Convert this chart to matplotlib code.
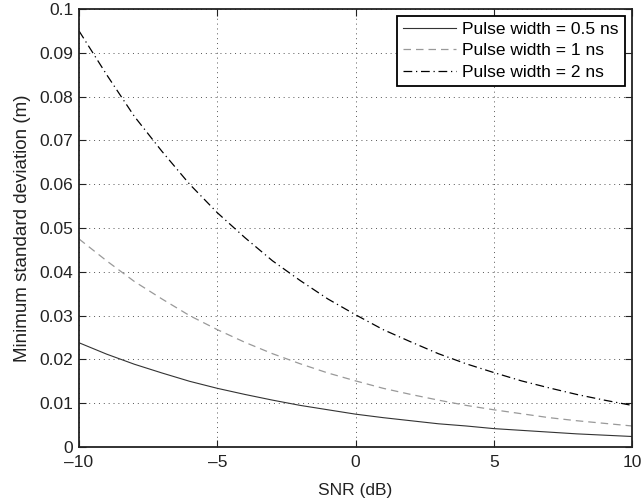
import matplotlib
matplotlib.use("Agg")
import matplotlib.pyplot as plt

plt.rcParams['font.family'] = ['Liberation Sans', 'DejaVu Sans']

snr = [-10, -9, -8, -7, -6, -5, -4, -3, -2, -1, 0, 1, 2, 3, 4, 5, 6, 7, 8, 9, 10]

std_05ns = [0.0238, 0.0212, 0.0189, 0.0169, 0.0150, 0.0134, 0.0120, 0.0107, 0.0095, 0.0085,
            0.0075, 0.0067, 0.0060, 0.0053, 0.0048, 0.0042, 0.0038, 0.0034, 0.0030, 0.0027, 0.0024]
std_1ns = [0.0475, 0.0425, 0.0378, 0.0338, 0.0300, 0.0268, 0.0239, 0.0213, 0.0190, 0.0169,
           0.0151, 0.0134, 0.0120, 0.0107, 0.0095, 0.0085, 0.0076, 0.0067, 0.0060, 0.0054, 0.0048]
std_2ns = [0.0950, 0.0850, 0.0755, 0.0675, 0.0600, 0.0535, 0.0478, 0.0425, 0.0380, 0.0338,
           0.0302, 0.0268, 0.0240, 0.0213, 0.0190, 0.0170, 0.0151, 0.0135, 0.0120, 0.0107, 0.0095]

labels = ['Pulse width = 0.5 ns', 'Pulse width = 1 ns', 'Pulse width = 2 ns']
xticks = [-10, -5, 0, 5, 10]
yticks = [0, 0.01, 0.02, 0.03, 0.04, 0.05, 0.06, 0.07, 0.08, 0.09, 0.1]
yticklabels = ['0', '0.01', '0.02', '0.03', '0.04', '0.05', '0.06', '0.07', '0.08', '0.09', '0.1']

fig = plt.figure(figsize=(6.44, 5.0), dpi=100)
ax = fig.add_axes([79 / 644, 53 / 500, 553 / 644, 438 / 500])

ax.plot(snr, std_05ns, '-', color='#333333', lw=0.8, label=labels[0])
ax.plot(snr, std_1ns, '--', color='#999999', lw=0.9, dashes=(6, 4), label=labels[1])
ax.plot(snr, std_2ns, '-.', color='black', lw=0.9, dashes=(7, 3, 1, 3), label=labels[2])

ax.set_xlim(-10, 10)
ax.set_ylim(0, 0.1)
ax.set_xticks(xticks)
ax.set_xticklabels(['\u2013' + str(-v) if v < 0 else str(v) for v in xticks])
ax.set_yticks(yticks)
ax.set_yticklabels(yticklabels)
ax.tick_params(direction='in', top=True, right=True, length=5, width=0.8,
               labelsize=12.5, colors='#222222', pad=4)
ax.tick_params(axis='x', pad=6)
ax.grid(True, linestyle=(0, (1, 4)), color='#555555', lw=0.7)

for s in ax.spines.values():
    s.set_linewidth(1.3)
    s.set_color('#222222')

ax.set_xlabel('SNR (dB)', fontsize=12.5, color='#222222', labelpad=9)
ax.set_ylabel('Minimum standard deviation (m)', fontsize=13.5, color='#222222', labelpad=6)

leg = ax.legend(loc='upper right', fontsize=12.5, fancybox=False, framealpha=1,
                edgecolor='black', borderpad=0.35, labelspacing=0.35, handlelength=3.0,
                handletextpad=0.4, borderaxespad=0.4)
leg.get_frame().set_linewidth(1.3)

fig.savefig('out.png', dpi=100)
